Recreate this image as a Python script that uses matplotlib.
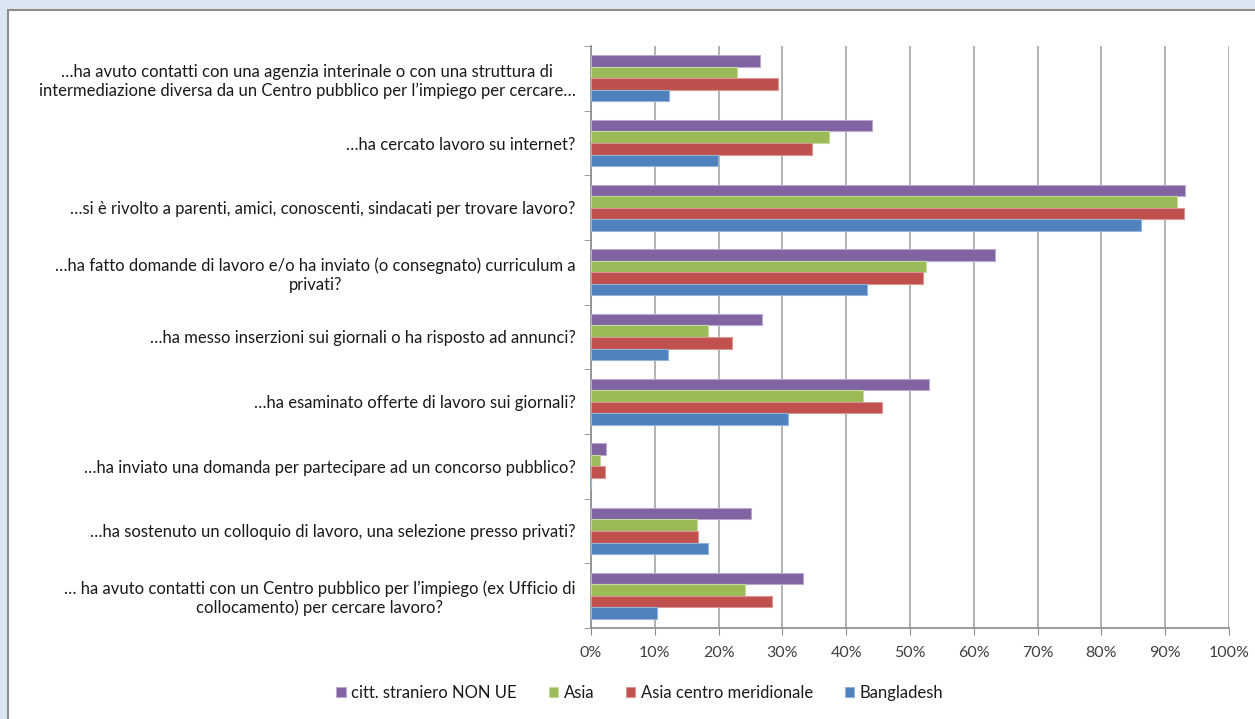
import numpy as np
import matplotlib.pyplot as plt
from matplotlib.patches import Rectangle

categories = [
    "\u2026ha avuto contatti con una agenzia interinale o con una struttura di\n"
    "intermediazione diversa da un Centro pubblico per l\u2019impiego per cercare\u2026",
    "\u2026ha cercato lavoro su internet?",
    "\u2026si \u00e8 rivolto a parenti, amici, conoscenti, sindacati per trovare lavoro?",
    "\u2026ha fatto domande di lavoro e/o ha inviato (o consegnato) curriculum a\nprivati?",
    "\u2026ha messo inserzioni sui giornali o ha risposto ad annunci?",
    "\u2026ha esaminato offerte di lavoro sui giornali?",
    "\u2026ha inviato una domanda per partecipare ad un concorso pubblico?",
    "\u2026ha sostenuto un colloquio di lavoro, una selezione presso privati?",
    "\u2026 ha avuto contatti con un Centro pubblico per l\u2019impiego (ex Ufficio di\n"
    "collocamento) per cercare lavoro?",
]

series_names = ["citt. straniero NON UE", "Asia", "Asia centro meridionale", "Bangladesh"]
non_ue = [26.5, 44.0, 93.1, 63.3, 26.8, 53.0, 2.4, 25.1, 33.2]
asia = [22.9, 37.3, 91.8, 52.5, 18.3, 42.6, 1.4, 16.6, 24.1]
asia_cm = [29.3, 34.6, 92.9, 52.0, 22.1, 45.6, 2.2, 16.8, 28.4]
bangladesh = [12.2, 19.9, 86.2, 43.3, 12.1, 30.9, 0.0, 18.3, 10.3]
colors = ["#8064A2", "#9BBB59", "#C0504D", "#4F81BD"]
edges = ["#b9a8cf", "#c4d99c", "#d99593", "#95b3d7"]

plt.rcParams['font.family'] = ['Lato', 'DejaVu Sans']

fig = plt.figure(figsize=(12.55, 7.19), dpi=100, facecolor="#dbe5f1")
# white chart area with grey frame
fig.patches.append(Rectangle((8 / 1255, -0.05), 1.1, 1 - 10 / 719 + 0.05,
                             transform=fig.transFigure, facecolor="white",
                             edgecolor="#8c8c8c", linewidth=1.5, zorder=-5))

ax = fig.add_axes([591 / 1255, 1 - 628 / 719, (1229 - 591) / 1255, (628 - 46) / 719])
ax.set_facecolor("none")

y = np.arange(len(categories))
h = 0.178
all_series = [non_ue, asia, asia_cm, bangladesh]
for i, (vals, name) in enumerate(zip(all_series, series_names)):
    offs = (i - 1.5) * h
    ax.barh(y + offs, vals, height=h, color=colors[i], edgecolor=edges[i],
            linewidth=0.8, label=name, zorder=3)

ax.set_ylim(len(categories) - 0.5, -0.5)
ax.set_xlim(0, 100)
ax.set_xticks(np.arange(0, 101, 10))
ax.set_xticklabels([f"{v}%" for v in range(0, 101, 10)], fontsize=11.5, color="#404040")
ax.set_yticks(y)
ax.set_yticklabels(categories, fontsize=12, color="#1a1a1a")
for t in ax.get_yticklabels():
    t.set_multialignment("center")
ax.set_yticks(np.arange(-0.5, len(categories), 1), minor=True)
ax.tick_params(axis="y", which="major", length=0, pad=11)
ax.tick_params(axis="y", which="minor", length=5, color="#8c8c8c", direction="out")
ax.tick_params(axis="x", length=5, color="#8c8c8c", pad=8)

ax.grid(axis="x", color="#a6a6a6", linewidth=1.2, zorder=0)
for s in ["top", "right"]:
    ax.spines[s].set_visible(False)
for s in ["left", "bottom"]:
    ax.spines[s].set_color("#8c8c8c")
    ax.spines[s].set_linewidth(1.2)

ax.legend(loc="center", bbox_to_anchor=(640 / 1255, 26 / 719), bbox_transform=fig.transFigure,
          ncol=4, frameon=False, fontsize=12, handlelength=0.55, handleheight=0.55,
          handletextpad=0.35, columnspacing=1.9, labelcolor="#1a1a1a")

fig.savefig("out.png", dpi=100, facecolor=fig.get_facecolor())
